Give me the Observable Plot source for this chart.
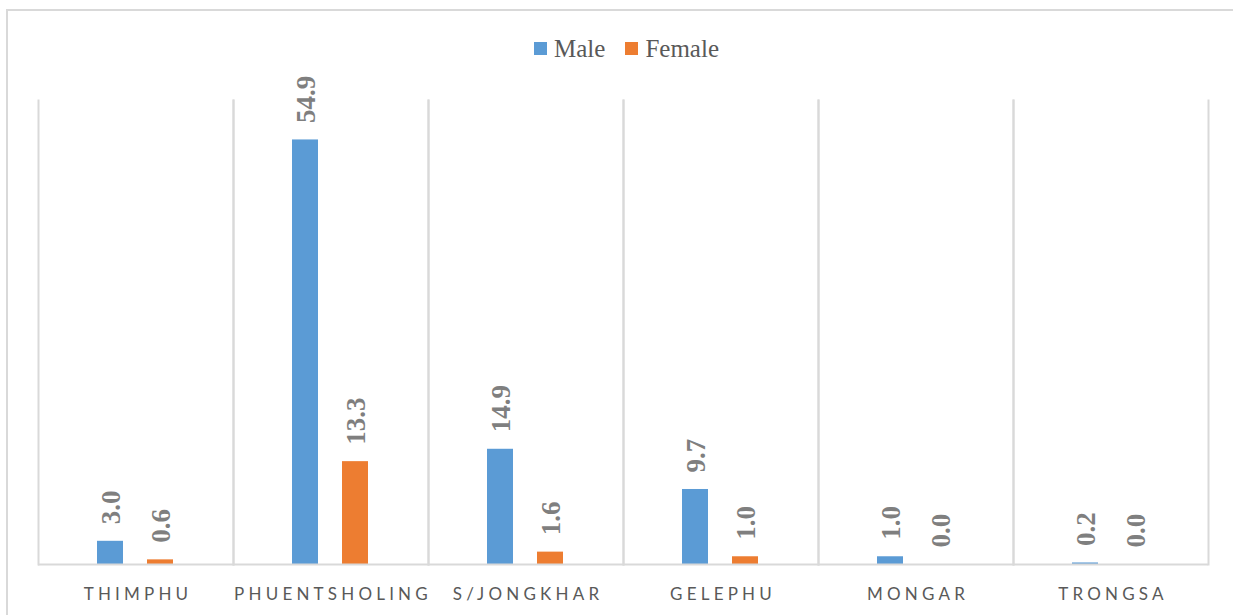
<!DOCTYPE html>
<html>
<head>
<meta charset="utf-8">
<script src="https://cdn.jsdelivr.net/npm/d3@7"></script>
<script src="https://cdn.jsdelivr.net/npm/@observablehq/plot@0.6"></script>
<style>
  html, body { margin: 0; padding: 0; background: #fff; overflow: hidden; width: 1233px; height: 615px; }
  #border { position: absolute; left: 6px; top: 9px; width: 1300px; height: 700px;
            border-left: 2px solid #d9d9d9; border-top: 2px solid #d9d9d9; }
  #chart { position: absolute; left: 0; top: 0; width: 1233px; height: 615px; }
  #legend { height: 75px; display: flex; justify-content: center; align-items: center;
            padding-left: 20px; box-sizing: border-box; padding-top: 22px;
            font-family: "Liberation Serif", "Times New Roman", serif; font-size: 25px; color: #595959; }
  .item { display: flex; align-items: center; margin: 0 10px; }
  .sw { width: 13px; height: 13px; margin-right: 7px; display: inline-block; }
  #chart svg g[aria-label="fx-axis tick label"] { letter-spacing: 4.2px; }
</style>
</head>
<body>
<div id="border"></div>
<div id="chart">
  <div id="legend"></div>
</div>
<script>
const categories = ["THIMPHU", "PHUENTSHOLING", "S/JONGKHAR", "GELEPHU", "MONGAR", "TRONGSA"];
const series = ["Male", "Female"];
const colors = ["#5B9BD5", "#ED7D31"];
const maleValues = [3.0, 54.9, 14.9, 9.7, 1.0, 0.2];
const femaleValues = [0.6, 13.3, 1.6, 1.0, 0.0, 0.0];

const data = [];
categories.forEach((c, i) => {
  data.push({cat: c, sex: "Male", value: maleValues[i]});
  data.push({cat: c, sex: "Female", value: femaleValues[i]});
});

// legend
const legend = document.getElementById("legend");
series.forEach((s, i) => {
  const it = document.createElement("div");
  it.className = "item";
  const sw = document.createElement("span");
  sw.className = "sw";
  sw.style.background = colors[i];
  const t = document.createElement("span");
  t.textContent = s;
  it.appendChild(sw); it.appendChild(t);
  legend.appendChild(it);
});

const chart = Plot.plot({
  width: 1233,
  height: 540,
  marginTop: 25,
  marginBottom: 51,
  marginLeft: 35,
  marginRight: 23,
  style: {background: "transparent", color: "#595959", overflow: "visible"},
  fx: {domain: categories, padding: 0, label: null},
  x: {domain: series, paddingInner: 0.475, paddingOuter: 1.176, axis: null},
  y: {domain: [0, 60], axis: null},
  color: {domain: series, range: colors},
  marks: [
    Plot.frame({anchor: "left", stroke: "#d9d9d9", strokeWidth: 2}),
    Plot.frame({anchor: "right", stroke: "#d9d9d9", strokeWidth: 2}),
    Plot.barY(data, {fx: "cat", x: "sex", y: "value", fill: "sex"}),
    Plot.ruleY([0], {stroke: "#d9d9d9", strokeWidth: 2}),
    Plot.text(data, {
      fx: "cat", x: "sex", y: "value",
      text: d => d.value.toFixed(1),
      rotate: -90, textAnchor: "start", dy: -17, dx: 1,
      fontFamily: "Liberation Serif, Times New Roman, serif",
      fontWeight: "bold", fontSize: 27, fill: "#7f7f7f"
    }),
    Plot.axisFx({anchor: "bottom", tickSize: 0, tickPadding: 23, fontSize: 17,
                 fontFamily: "Lato, sans-serif", label: null, dx: 2, fill: "#595959"})
  ]
});
document.getElementById("chart").appendChild(chart);
</script>
</body>
</html>
